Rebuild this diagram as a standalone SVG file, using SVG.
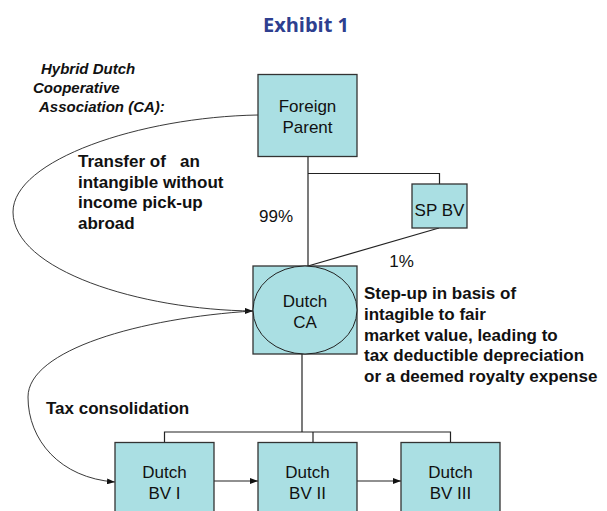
<svg xmlns="http://www.w3.org/2000/svg" width="607" height="511" viewBox="0 0 607 511">
<style>
.box{fill:#aadfe3;stroke:#333;stroke-width:1.3}
.ln{fill:none;stroke:#222;stroke-width:1.2}
.cv{fill:none;stroke:#222;stroke-width:0.9}
.lbl{font-family:"Liberation Sans",Arial,sans-serif;font-size:17px;fill:#111;text-anchor:middle}
.note{font-family:"Liberation Sans",Arial,sans-serif;font-size:17px;font-weight:bold;fill:#111}
.hdr{font-family:"Liberation Sans",Arial,sans-serif;font-size:15px;font-weight:bold;font-style:italic;fill:#111}
.title{font-family:"Open Sans",sans-serif;font-size:20px;font-weight:bold;fill:#2e3f8f;text-anchor:middle}
</style>
<defs>
<marker id="ah" markerUnits="userSpaceOnUse" markerWidth="8" markerHeight="6" refX="8" refY="3" orient="auto">
<path d="M0,0 L8,3 L0,6 z" fill="#111"/>
</marker>
</defs>
<rect width="607" height="511" fill="#fff"/>
<text class="title" x="306" y="32">Exhibit 1</text>
<g id="header-note">
<text class="hdr" x="41" y="74">Hybrid Dutch</text>
<text class="hdr" x="33" y="92.5">Cooperative</text>
<text class="hdr" x="39" y="111.5">Association (CA):</text>
</g>
<g id="connectors">
<path class="ln" d="M308,157 V266"/>
<path class="ln" d="M308,173.5 H439.5 V184"/>
<path class="ln" d="M439,228 L308,266"/>
<path class="ln" d="M302,354 V432"/>
<path class="ln" d="M164.5,442 V432 H450.5 V442"/>
<path class="ln" d="M313,432 V442"/>
<path class="ln" d="M214,481 H258" marker-end="url(#ah)"/>
<path class="ln" d="M357,481 H401" marker-end="url(#ah)"/>
<path class="cv" d="M258,115 C140,117 13,160 13,212 C13,270 140,310 253,311" marker-end="url(#ah)"/>
<path class="cv" d="M253,311 C140,318 28,350 28,397 C28,440 60,478 115,482" marker-end="url(#ah)"/>
</g>
<g id="foreign-parent">
<rect class="box" x="258" y="74.5" width="99" height="82"/>
<text class="lbl" x="307.5" y="112">Foreign</text>
<text class="lbl" x="307.5" y="132.5">Parent</text>
</g>
<g id="sp-bv">
<rect class="box" x="412" y="184" width="55" height="44"/>
<text class="lbl" x="439.5" y="216">SP BV</text>
</g>
<g id="dutch-ca">
<rect class="box" x="253" y="266" width="104" height="88"/>
<ellipse cx="305" cy="310" rx="52" ry="44" fill="#aadfe3" stroke="#222" stroke-width="1"/>
<text class="lbl" x="305" y="307">Dutch</text>
<text class="lbl" x="305" y="328">CA</text>
</g>
<g id="dutch-bv-1">
<rect class="box" x="115" y="442.5" width="99" height="80"/>
<text class="lbl" x="164.5" y="478">Dutch</text>
<text class="lbl" x="164.5" y="499">BV I</text>
</g>
<g id="dutch-bv-2">
<rect class="box" x="258" y="442.5" width="99" height="80"/>
<text class="lbl" x="307.5" y="478">Dutch</text>
<text class="lbl" x="307.5" y="499">BV II</text>
</g>
<g id="dutch-bv-3">
<rect class="box" x="401" y="442.5" width="99" height="80"/>
<text class="lbl" x="450.5" y="478">Dutch</text>
<text class="lbl" x="450.5" y="499">BV III</text>
</g>
<g id="labels">
<text class="lbl" x="276" y="222">99%</text>
<text class="lbl" x="401.5" y="267">1%</text>
<text class="note" x="78"><tspan x="78" y="167" xml:space="preserve">Transfer of   an</tspan><tspan x="78" y="187.5">intangible without</tspan><tspan x="78" y="208">income pick-up</tspan><tspan x="78" y="228.5">abroad</tspan></text>
<text class="note" x="364"><tspan x="364" y="299">Step-up in basis of</tspan><tspan x="364" y="320">intagible to fair</tspan><tspan x="364" y="340.5">market value, leading to</tspan><tspan x="364" y="361">tax deductible depreciation</tspan><tspan x="364" y="381.5">or a deemed royalty expense</tspan></text>
<text class="note" x="46" y="414">Tax consolidation</text>
</g>
</svg>
